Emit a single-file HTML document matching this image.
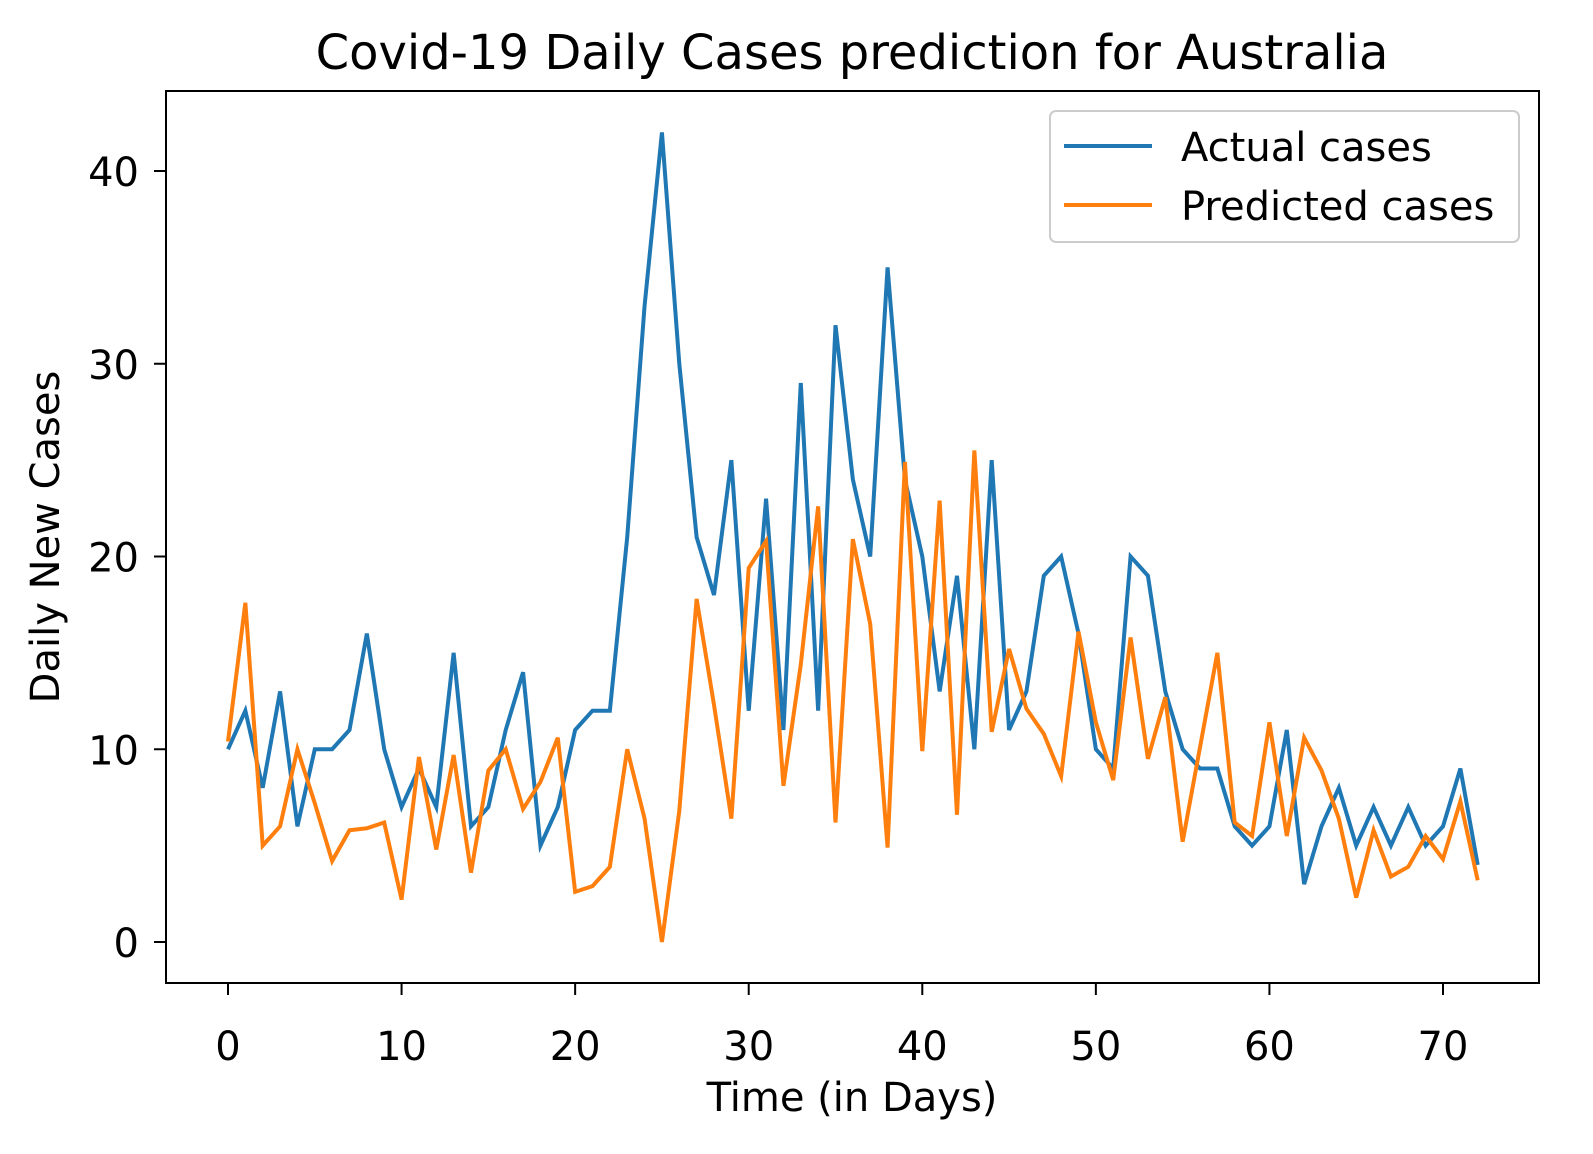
<!DOCTYPE html>
<html><head><meta charset="utf-8">
<style>
html,body{margin:0;padding:0;background:#fff;}
svg{display:block;font-family:"DejaVu Sans","Liberation Sans",sans-serif;}
</style></head>
<body>
<svg id="chart" width="1593" height="1154" viewBox="0 0 1593 1154">
  <rect x="0" y="0" width="1593" height="1154" fill="#fff"/>
  <text x="852" y="69" font-size="48" text-anchor="middle" fill="#000">Covid-19 Daily Cases prediction for Australia</text>
  <g id="ticks"></g>
  <g id="series"></g>
  <rect x="166" y="91" width="1373" height="892" fill="none" stroke="#000" stroke-width="2"/>
  <text x="852" y="1111" font-size="40" text-anchor="middle">Time (in Days)</text>
  <text transform="translate(59,537) rotate(-90)" font-size="40" text-anchor="middle">Daily New Cases</text>
  <g>
    <rect x="1050" y="111" width="469" height="131" rx="6" fill="#fff" fill-opacity="0.8" stroke="#ccc" stroke-width="2"/>
    <line x1="1064" y1="146" x2="1152" y2="146" stroke="#1f77b4" stroke-width="4"/>
    <text x="1181" y="161" font-size="40">Actual cases</text>
    <line x1="1064" y1="205" x2="1152" y2="205" stroke="#ff7f0e" stroke-width="4"/>
    <text x="1181" y="220" font-size="40">Predicted cases</text>
  </g>
</svg>
<script>
const actual = [10,12,8,13,6,10,10,11,16,10,7,9,7,15,6,7,11,14,5,7,11,12,12,21,33,42,30,21,18,25,12,23,11,29,12,32,24,20,35,24,20,13,19,10,25,11,13,19,20,16,10,9,20,19,13,10,9,9,6,5,6,11,3,6,8,5,7,5,7,5,6,9,4];
const predicted = [10.4,17.6,5,6,10,7.2,4.2,5.8,5.9,6.2,2.2,9.6,4.8,9.7,3.6,8.9,10,6.9,8.3,10.6,2.6,2.9,3.9,10,6.4,0,6.8,17.8,12.3,6.4,19.4,20.8,8.1,14.4,22.6,6.2,20.9,16.5,4.9,24.9,9.9,22.9,6.6,25.5,10.9,15.2,12.1,10.8,8.6,16.1,11.4,8.4,15.8,9.5,12.7,5.2,10.1,15,6.2,5.5,11.4,5.5,10.6,8.9,6.4,2.3,5.8,3.4,3.9,5.5,4.3,7.3,3.2];
const xTicks = [0,10,20,30,40,50,60,70];
const yTicks = [0,10,20,30,40];

const NS = "http://www.w3.org/2000/svg";
function xScale(v){ return 228 + v * (1443 - 228) / 70; }
function yScale(v){ return 942 - v * (942 - 171) / 40; }

const tg = document.getElementById('ticks');
xTicks.forEach(t => {
  const l = document.createElementNS(NS,'line');
  l.setAttribute('x1', xScale(t)); l.setAttribute('x2', xScale(t));
  l.setAttribute('y1', 983); l.setAttribute('y2', 995);
  l.setAttribute('stroke','#000'); l.setAttribute('stroke-width','2');
  
  
  tg.appendChild(l);
  const tx = document.createElementNS(NS,'text');
  tx.setAttribute('x', xScale(t)); tx.setAttribute('y', 1060);
  tx.setAttribute('font-size','40'); tx.setAttribute('text-anchor','middle');
  tx.textContent = t;
  
  
  tg.appendChild(tx);
});
yTicks.forEach(t => {
  const l = document.createElementNS(NS,'line');
  l.setAttribute('x1', 154); l.setAttribute('x2', 166);
  l.setAttribute('y1', yScale(t)); l.setAttribute('y2', yScale(t));
  l.setAttribute('stroke','#000'); l.setAttribute('stroke-width','2');
  
  
  tg.appendChild(l);
  const tx = document.createElementNS(NS,'text');
  tx.setAttribute('x', 139); tx.setAttribute('y', yScale(t) + 15);
  tx.setAttribute('font-size','40'); tx.setAttribute('text-anchor','end');
  tx.textContent = t;
  
  
  tg.appendChild(tx);
});

const sg = document.getElementById('series');
function drawLine(vals, color, name){
  const p = document.createElementNS(NS,'polyline');
  p.setAttribute('points', vals.map((v,i)=> xScale(i).toFixed(2)+','+yScale(v).toFixed(2)).join(' '));
  p.setAttribute('fill','none'); p.setAttribute('stroke',color);
  p.setAttribute('stroke-width','4'); p.setAttribute('stroke-linejoin','miter');
  
  
  sg.appendChild(p);
}
drawLine(actual, '#1f77b4', 'actual-cases-line');
drawLine(predicted, '#ff7f0e', 'predicted-cases-line');
</script>
</body></html>
